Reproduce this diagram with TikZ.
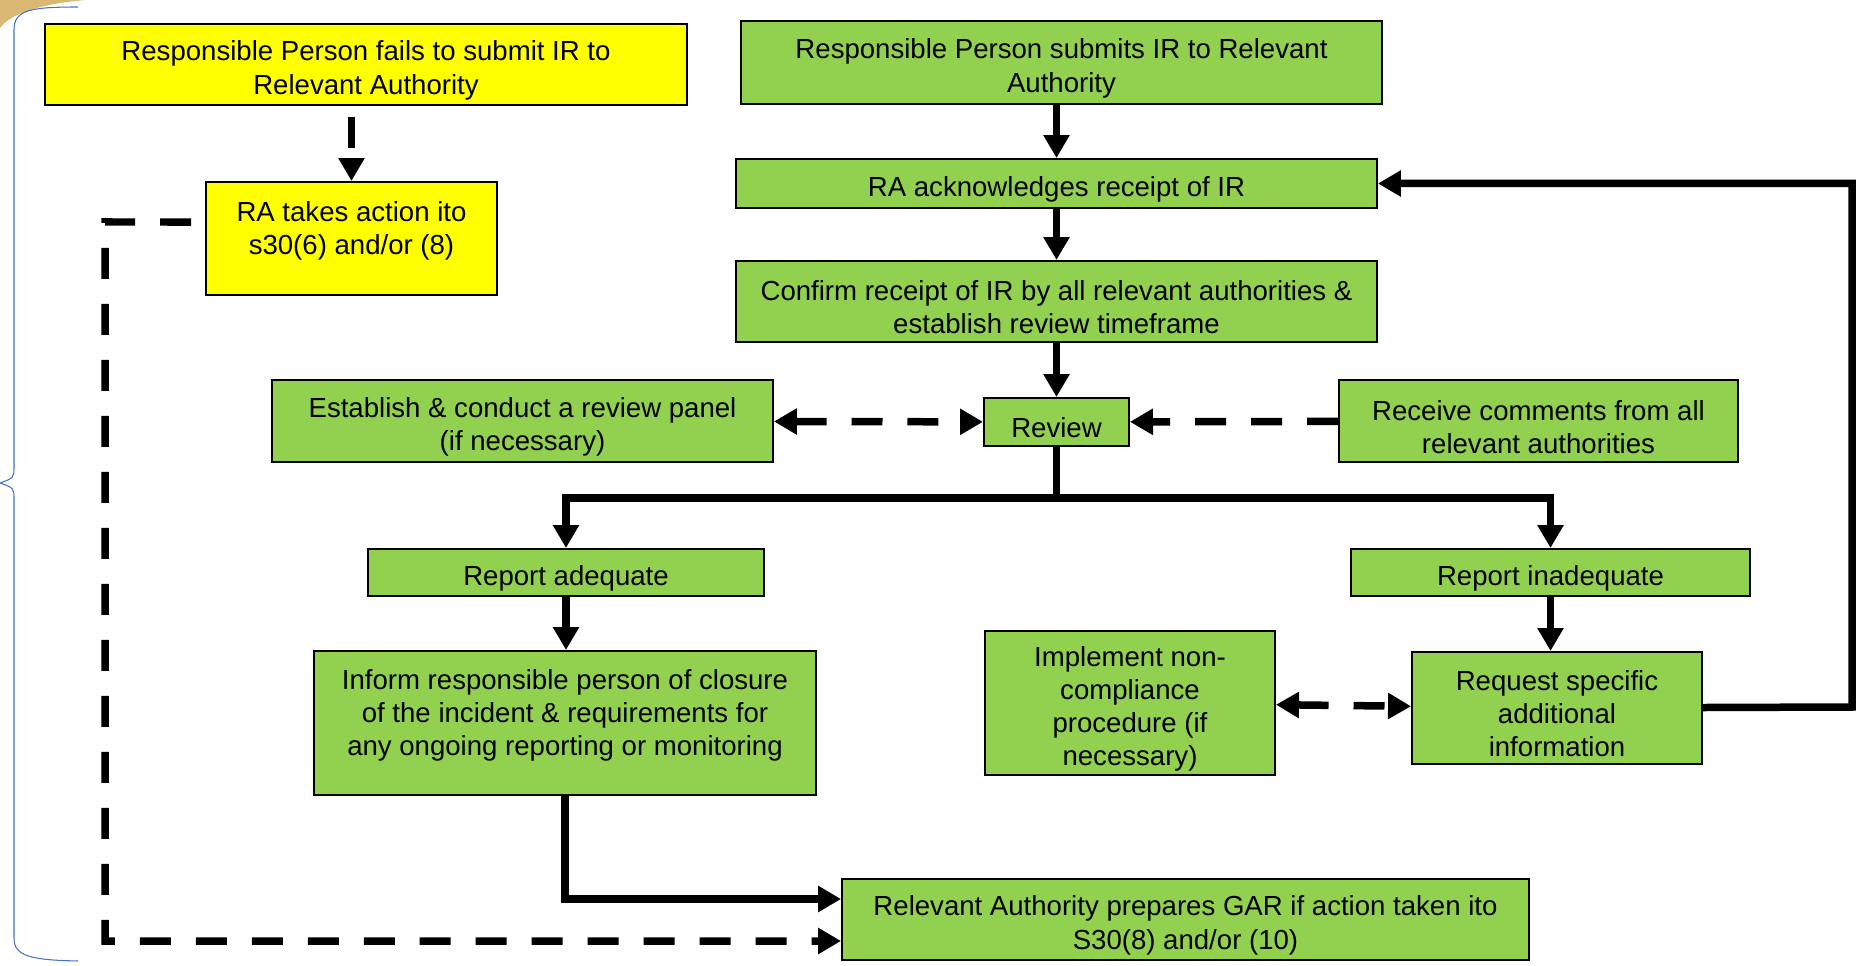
\documentclass[tikz,border=0pt]{standalone}
\usepackage{fontspec}
\setmainfont{Liberation Sans}
\usetikzlibrary{positioning,arrows.meta,calc}
\definecolor{boxgreen}{HTML}{92D050}
\definecolor{boxyellow}{HTML}{FFFF00}
\definecolor{braceblue}{HTML}{4472C4}
\definecolor{swoosh}{HTML}{D8B872}
\tikzset{>={Triangle[length=0.46cm,width=0.5cm]}}
\tikzset{box/.style={draw=black,line width=0.04cm,inner sep=0,align=center,font=\fontsize{15.7pt}{18.9pt}\selectfont}}
\tikzset{greenbox/.style={box,fill=boxgreen},yellowbox/.style={box,fill=boxyellow}}
\tikzset{flow/.style={line width=0.15cm},dashflow/.style={flow,dash pattern=on 0.62cm off 0.5cm}}
\newcommand{\drawgreen}{\node[greenbox]}
\newcommand{\drawyellow}{\node[yellowbox]}
\newcommand{\lift}{\rule{0pt}{18pt}}
\newcommand{\sink}{\rule[-12pt]{0pt}{0pt}}

\begin{document}
\begin{tikzpicture}[x=0.02cm,y=-0.02cm]
	\useasboundingbox (0,0) rectangle (1870,966);
	
	% slide decoration
	\fill[swoosh] (0,0) -- (85,0) .. controls (40,4) and (10,14) .. (0,28) -- cycle;
	\draw[braceblue,line width=0.6pt] (78,7) .. controls (30,7) and (14,10) .. (14,30) -- (14,466) .. controls (14,478) .. (0,483) .. controls (14,488) .. (14,500) -- (14,938) .. controls (14,956) and (30,960) .. (78,961);
	
	\drawyellow (fails) at (366,64.5) [minimum width=12.84cm,minimum height=1.62cm] {\lift Responsible Person fails to submit IR to\\Relevant Authority};
	\drawyellow (raaction) at (351.5,238.5) [minimum width=5.82cm,minimum height=2.26cm] {RA takes action ito\\s30(6) and/or (8)\sink};
	
	\drawgreen (submits) at (1061.5,62.5) [minimum width=12.82cm,minimum height=1.66cm] {\lift Responsible Person submits IR to Relevant\\Authority};
	\drawgreen (ack) at (1056.5,183.5) [minimum width=12.82cm,minimum height=0.98cm] {\lift RA acknowledges receipt of IR};
	\drawgreen (confirm) at (1056.5,301.5) [minimum width=12.82cm,minimum height=1.62cm] {\lift Confirm receipt of IR by all relevant authorities \&\\establish review timeframe};
	\drawgreen (review) at (1056.5,422) [minimum width=2.9cm,minimum height=0.96cm] {\lift Review};
	\drawgreen (panel) at (522.5,421) [minimum width=10.02cm,minimum height=1.64cm] {\lift Establish \& conduct a review panel\\(if necessary)};
	\drawgreen (comments) at (1538.5,421) [minimum width=7.98cm,minimum height=1.64cm] {\lift Receive comments from all\\relevant authorities};
	\drawgreen (adequate) at (566,572.5) [minimum width=7.94cm,minimum height=0.94cm] {\lift Report adequate};
	\drawgreen (inadequate) at (1550.5,572.5) [minimum width=7.98cm,minimum height=0.94cm] {\lift Report inadequate};
	\drawgreen (inform) at (565,723) [minimum width=10.04cm,minimum height=2.88cm] {Inform responsible person of closure\\of the incident \& requirements for\\any ongoing reporting or monitoring\sink};
	\drawgreen (noncomp) at (1130,703) [minimum width=5.8cm,minimum height=2.88cm] {\lift Implement non-\\compliance\\procedure (if\\necessary)};
	\drawgreen (request) at (1557,708) [minimum width=5.8cm,minimum height=2.24cm] {\lift Request specific\\additional\\information};
	\drawgreen (gar) at (1185.5,919.5) [minimum width=13.74cm,minimum height=1.62cm] {\lift Relevant Authority prepares GAR if action taken ito\\S30(8) and/or (10)};
	
	\coordinate (split) at (1056.5,498);
	\coordinate (loopback) at (1852,707);
	\coordinate (bend) at (105,222);
	
	\draw[flow,->] (submits.south -| ack) -- (ack);
	\draw[flow,->] (ack) -- (confirm);
	\draw[flow,->] (confirm) -- (review);
	\draw[flow,->] (review) -- (split) -| (adequate);
	\draw[flow,->] (split) -| (inadequate);
	\draw[flow,->] (adequate) -- (adequate |- inform.north);
	\draw[flow,->] (inadequate) -- (inadequate |- request.north);
	\draw[flow,->] (inform) |- ([yshift=0.41cm]gar.west);
	\draw[flow,->] (request) -- (loopback) |- (ack);
	
	\draw[dashflow,<->] (panel) -- (review);
	\draw[dashflow,->] (comments) -- (review);
	\draw[dashflow,<->] (noncomp) -- (request);
	\draw[dashflow,->,dash phase=0.9cm] (raaction |- fails.south) -- (raaction);
	\draw[dashflow,->,dash phase=0.84cm] ([yshift=0.33cm]raaction.west) -- (bend) |- ([yshift=-0.43cm]gar.west);
	
\end{tikzpicture}
\end{document}
